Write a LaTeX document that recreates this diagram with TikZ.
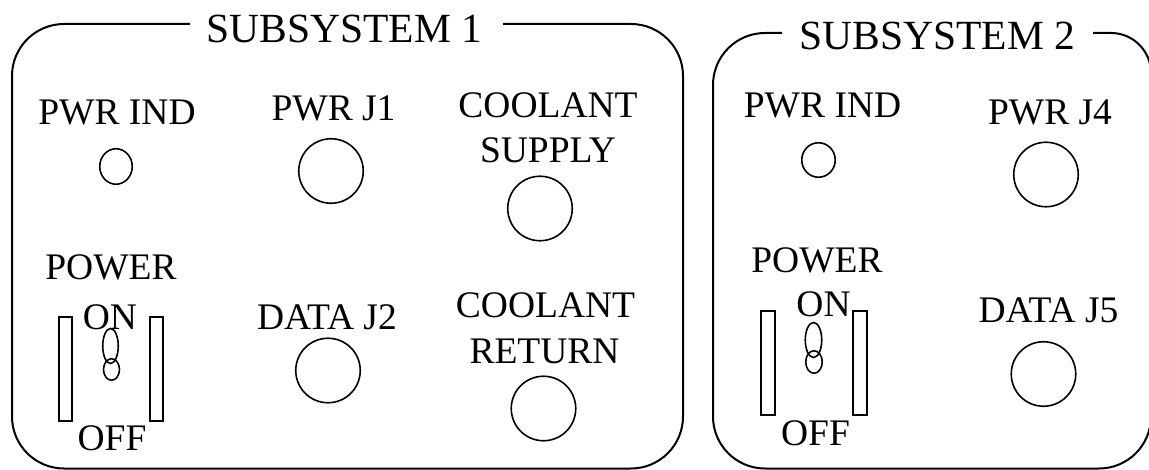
\documentclass[tikz,border=0pt]{standalone}
\usepackage{fontspec}
\setmainfont{Liberation Serif}
\usetikzlibrary{shapes.geometric}
\begin{document}
\begin{tikzpicture}[x=1pt,y=-1pt,
  panel/.style={line width=2pt, line join=round},
  lbl/.style={anchor=base, inner sep=0pt, font=\fontsize{37.5}{45}\selectfont},
  ttl/.style={anchor=base, inner sep=0pt, font=\fontsize{41.5}{50}\selectfont},
  jack/.style={circle, draw, line width=1.6pt, minimum size=64.5pt, inner sep=0pt},
  lamp/.style={ellipse, draw, line width=1.6pt, inner sep=0pt},
  guard/.style={rectangle, draw, line width=1.6pt, minimum width=13.5pt, minimum height=104.5pt, inner sep=0pt}]
\useasboundingbox (0,0) rectangle (1149,470);

% ---------- Subsystem 1 ----------
\draw[panel, rounded corners=52pt] (190,24) -- (12,24) -- (12,468.5) -- (683,468.5) -- (683,24) -- (503,24);
\node[ttl] (t1) at (344.5,43) {SUBSYSTEM 1};

\node[lbl] (ind1) at (117,125) {PWR IND};
\node[lamp, minimum width=32.5pt, minimum height=35.5pt] (ind1c) at (116,166.5) {};

\node[lbl] (j1) at (333.5,120.7) {PWR J1};
\node[jack] (j1c) at (331,171) {};

\node[lbl] (cs1) at (548,118) {COOLANT};
\node[lbl] (cs2) at (548,163) {SUPPLY};
\node[jack] (csc) at (540,208.5) {};

\node[lbl] (pw1) at (111,280) {POWER};
\node[lbl] (on1) at (110,330) {ON};
\node[guard] (g1a) at (65.5,369) {};
\node[guard] (g1b) at (156.5,369) {};
\node[lamp, minimum width=15.5pt, minimum height=35pt] (tg1a) at (110.5,346) {};
\node[lamp, minimum width=16pt, minimum height=21.5pt] (tg1b) at (111.5,369.5) {};
\node[lbl] (off1) at (112,450) {OFF};

\node[lbl] (j2) at (327,330) {DATA J2};
\node[jack] (j2c) at (328,370.5) {};

\node[lbl] (cr1) at (545.5,318) {COOLANT};
\node[lbl] (cr2) at (544.5,363) {RETURN};
\node[jack] (crc) at (543.5,408.5) {};

% ---------- Subsystem 2 ----------
\draw[panel, rounded corners=52pt] (782,33) -- (713,33) -- (713,468.5) -- (1151,468.5) [rounded corners=40pt] -- (1151,33) -- (1093,33);
\node[ttl] (t2) at (937.5,50) {SUBSYSTEM 2};

\node[lbl] (ind2) at (822.5,118) {PWR IND};
\node[lamp, minimum width=33.5pt, minimum height=34.5pt] (ind2c) at (818.5,160) {};

\node[lbl] (j4) at (1050,125) {PWR J4};
\node[jack] (j4c) at (1046,174.5) {};

\node[lbl] (pw2) at (817,273) {POWER};
\node[lbl] (on2) at (823.5,317) {ON};
\node[guard] (g2a) at (768,363) {};
\node[guard] (g2b) at (860,363) {};
\node[lamp, minimum width=16.5pt, minimum height=35pt] (tg2a) at (813.5,340) {};
\node[lamp, minimum width=16.5pt, minimum height=22.5pt] (tg2b) at (814,362) {};
\node[lbl] (off2) at (815.5,445) {OFF};

\node[lbl] (j5) at (1048.5,323) {DATA J5};
\node[jack] (j5c) at (1043.5,374) {};
\end{tikzpicture}
\end{document}
